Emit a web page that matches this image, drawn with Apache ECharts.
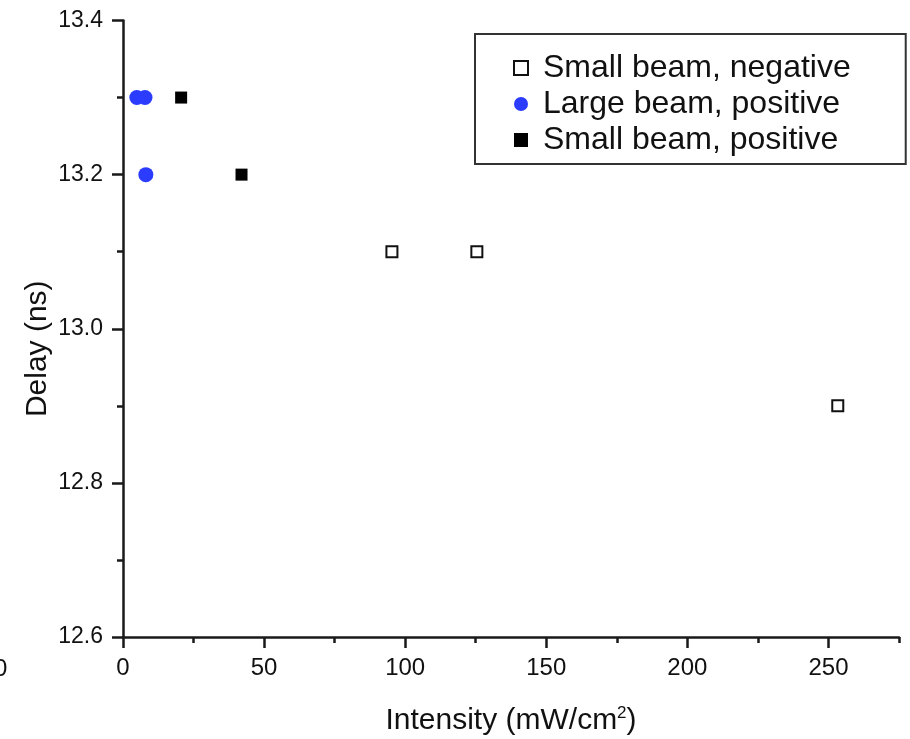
<!DOCTYPE html>
<html>
<head>
<meta charset="utf-8">
<script src="https://cdn.jsdelivr.net/npm/echarts@6/dist/echarts.min.js"></script>
<style>
html,body{margin:0;padding:0;background:#fff;}
#chart{width:910px;height:739px;}
</style>
</head>
<body>
<div id="chart"></div>
<script>
// Data
const seriesNames = ['Small beam, negative', 'Large beam, positive', 'Small beam, positive'];
const smallNegX = [95.3, 125.4, 253.3];
const smallNegY = [13.1, 13.1, 12.9];
const largePosX = [4.9, 7.8, 8.1];
const largePosY = [13.3, 13.3, 13.2];
const smallPosX = [20.6, 42.0];
const smallPosY = [13.3, 13.2];
const xTickLabels = [0, 50, 100, 150, 200, 250];
const yTickLabels = [12.6, 12.8, 13.0, 13.2, 13.4];

const pair = (xs, ys) => xs.map((x, i) => [x, ys[i]]);
const FONT = '"Liberation Sans", Arial, Helvetica, sans-serif';
const AX = '#1a1a1a';

const chart = echarts.init(document.getElementById('chart'), null, {renderer: 'canvas'});
chart.setOption({
  animation: false,
  backgroundColor: '#fff',
  textStyle: {fontFamily: FONT},
  grid: {left: 123, right: 11, top: 20.5, bottom: 102, containLabel: false, outerBoundsMode: 'none'},
  legend: {
    orient: 'vertical',
    left: 475, top: 34,
    data: seriesNames,
    itemWidth: 14, itemHeight: 14, itemGap: 4,
    padding: [18, 55, 8, 38],
    borderColor: '#333', borderWidth: 2,
    backgroundColor: '#fff',
    textStyle: {fontFamily: FONT, fontSize: 32, color: '#111', padding: [0, 0, 0, 10]}
  },
  xAxis: [{
    type: 'value', min: 0, max: 275, interval: 25,
    axisLine: {show: true, lineStyle: {color: AX, width: 2.5}},
    axisTick: {show: true, inside: false, length: 6, lineStyle: {color: AX, width: 2.5}},
    axisLabel: {show: false},
    splitLine: {show: false},
    name: 'Intensity (mW/cm{sup|2})',
    nameLocation: 'middle', nameGap: 68, nameMoveOverlap: false,
    nameTextStyle: {fontFamily: FONT, fontSize: 30, color: '#111',
      rich: {sup: {fontSize: 17, verticalAlign: 'top', padding: [0, 0, 14, 0], fontFamily: FONT, color: '#111'}}}
  }, {
    type: 'value', min: 0, max: 275, position: 'bottom',
    axisLine: {show: false},
    axisTick: {show: true, length: 11, customValues: xTickLabels, lineStyle: {color: AX, width: 2.5}},
    axisLabel: {show: true, customValues: xTickLabels, margin: 19, fontSize: 24, color: '#111', fontFamily: FONT},
    splitLine: {show: false}
  }],
  yAxis: {
    type: 'value', min: 12.6, max: 13.4, interval: 0.2,
    axisLine: {show: true, lineStyle: {color: AX, width: 2.5}},
    axisTick: {show: true, length: 11, lineStyle: {color: AX, width: 2.5}},
    minorTick: {show: true, splitNumber: 2, length: 6, lineStyle: {color: AX, width: 2.5}},
    axisLabel: {margin: 20, fontSize: 23, color: '#111', fontFamily: FONT,
      formatter: v => v.toFixed(1)},
    splitLine: {show: false},
    name: 'Delay (ns)', nameLocation: 'middle', nameGap: 70, nameMoveOverlap: false,
    nameTextStyle: {fontFamily: FONT, fontSize: 30, color: '#111', padding: [0, 40, 0, 0]}
  },
  graphic: [{
    type: 'text', left: -6, top: 657,
    style: {text: '0', fontSize: 24, fontFamily: FONT, fill: '#111'}
  }],
  series: [{
    name: seriesNames[0], type: 'scatter', xAxisIndex: 0,
    symbol: 'rect', symbolSize: 11,
    itemStyle: {color: '#fff', borderColor: '#111', borderWidth: 2, opacity: 1},
    data: pair(smallNegX, smallNegY)
  }, {
    name: seriesNames[1], type: 'scatter', xAxisIndex: 0,
    symbol: 'circle', symbolSize: 15,
    itemStyle: {color: '#2b3cff', opacity: 1},
    data: pair(largePosX, largePosY)
  }, {
    name: seriesNames[2], type: 'scatter', xAxisIndex: 0,
    symbol: 'rect', symbolSize: 12,
    itemStyle: {color: '#000', opacity: 1},
    data: pair(smallPosX, smallPosY)
  }]
});
</script>
</body>
</html>
